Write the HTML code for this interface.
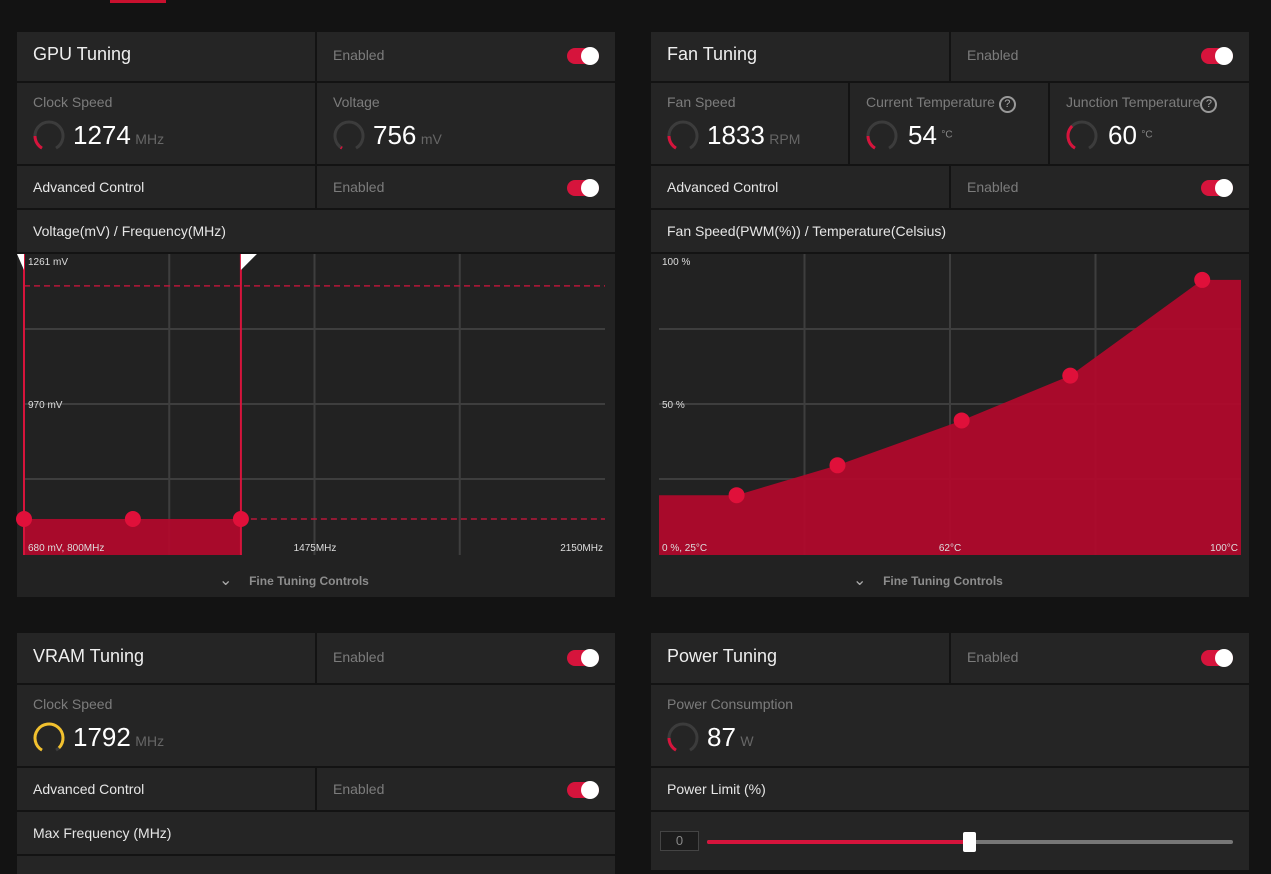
<!DOCTYPE html>
<html><head><meta charset="utf-8"><style>
*{box-sizing:border-box;margin:0;padding:0}
body{width:1271px;height:874px;background:#131313;font-family:"Liberation Sans",sans-serif;position:relative;overflow:hidden;color:#fff}
.c{position:absolute;background:#252525}
.t{position:absolute;white-space:nowrap}
.title{font-size:18px;color:#eee}
.lab{font-size:14px;color:#7c7c7c}
.row{font-size:14px;color:#e6e6e6}
.val{font-size:26px;color:#fff}
.unit{font-size:14px;color:#666}
.tog{position:absolute;width:32px;height:16px;border-radius:8px;background:#d6143c}
.tog::after{content:"";position:absolute;right:0;top:-1px;width:18px;height:18px;border-radius:9px;background:#fff}
.ft{font-size:12px;color:#8d8d8d;font-weight:bold}
</style></head><body>
<div class="t" style="left:110px;top:0;width:56px;height:3px;background:#c8102e"></div>

<!-- GPU panel -->
<div>
<div class="c" style="left:17px;top:32px;width:298px;height:49px"></div>
<div class="c" style="left:317px;top:32px;width:298px;height:49px"></div>
<div class="t title" style="left:33px;top:44px">GPU Tuning</div>
<div class="t lab" style="left:333px;top:47px">Enabled</div>
<div class="tog" style="left:567px;top:48px"></div>
<div class="c" style="left:17px;top:83px;width:298px;height:81px"></div>
<div class="c" style="left:317px;top:83px;width:298px;height:81px"></div>
<div class="t lab" style="left:33px;top:94px">Clock Speed</div>
<svg class="t gauge" data-f="0.2" data-col="#d6143c" style="left:31px;top:118px" width="36" height="36"></svg>
<div class="t" style="left:73px;top:120px"><span class="val">1274</span> <span class="unit">MHz</span></div>
<div class="t lab" style="left:333px;top:94px">Voltage</div>
<svg class="t gauge" data-f="0.02" data-col="#d6143c" style="left:331px;top:118px" width="36" height="36"></svg>
<div class="t" style="left:373px;top:120px"><span class="val">756</span> <span class="unit">mV</span></div>
<div class="c" style="left:17px;top:166px;width:298px;height:42px"></div>
<div class="c" style="left:317px;top:166px;width:298px;height:42px"></div>
<div class="t row" style="left:33px;top:179px">Advanced Control</div>
<div class="t lab" style="left:333px;top:179px">Enabled</div>
<div class="tog" style="left:567px;top:180px"></div>
<div class="c" style="left:17px;top:210px;width:598px;height:42px"></div>
<div class="t row" style="left:33px;top:223px">Voltage(mV) / Frequency(MHz)</div>
<div class="c" style="left:17px;top:254px;width:598px;height:343px;background:#222"></div>
<svg id="vf" class="t" style="left:0;top:0" width="640" height="600"></svg>
<div class="t ft" style="left:219px;top:570px"><span style="font-size:16px;font-weight:normal;color:#aaa">&#8964;</span>&nbsp;&nbsp;&nbsp;&nbsp;&nbsp;Fine Tuning Controls</div>
</div>

<!-- Fan panel -->
<div>
<div class="c" style="left:651px;top:32px;width:298px;height:49px"></div>
<div class="c" style="left:951px;top:32px;width:298px;height:49px"></div>
<div class="t title" style="left:667px;top:44px">Fan Tuning</div>
<div class="t lab" style="left:967px;top:47px">Enabled</div>
<div class="tog" style="left:1201px;top:48px"></div>
<div class="c" style="left:651px;top:83px;width:197px;height:81px"></div>
<div class="c" style="left:850px;top:83px;width:198px;height:81px"></div>
<div class="c" style="left:1050px;top:83px;width:199px;height:81px"></div>
<div class="t lab" style="left:667px;top:94px">Fan Speed</div>
<svg class="t gauge" data-f="0.2" data-col="#d6143c" style="left:665px;top:118px" width="36" height="36"></svg>
<div class="t" style="left:707px;top:120px"><span class="val">1833</span> <span class="unit">RPM</span></div>
<div class="t lab" style="left:866px;top:94px">Current Temperature <span style="display:inline-block;width:17px;height:17px;border:2px solid #999;border-radius:50%;font-size:11px;text-align:center;line-height:13px;color:#aaa">?</span></div>
<svg class="t gauge" data-f="0.2" data-col="#d6143c" style="left:864px;top:118px" width="36" height="36"></svg>
<div class="t" style="left:908px;top:120px"><span class="val">54</span> <sup style="font-size:10px;color:#888">°C</sup></div>
<div class="t lab" style="left:1066px;top:94px">Junction Temperature<span style="display:inline-block;width:17px;height:17px;border:2px solid #999;border-radius:50%;font-size:11px;text-align:center;line-height:13px;color:#aaa">?</span></div>
<svg class="t gauge" data-f="0.35" data-col="#d6143c" style="left:1064px;top:118px" width="36" height="36"></svg>
<div class="t" style="left:1108px;top:120px"><span class="val">60</span> <sup style="font-size:10px;color:#888">°C</sup></div>
<div class="c" style="left:651px;top:166px;width:298px;height:42px"></div>
<div class="c" style="left:951px;top:166px;width:298px;height:42px"></div>
<div class="t row" style="left:667px;top:179px">Advanced Control</div>
<div class="t lab" style="left:967px;top:179px">Enabled</div>
<div class="tog" style="left:1201px;top:180px"></div>
<div class="c" style="left:651px;top:210px;width:598px;height:42px"></div>
<div class="t row" style="left:667px;top:223px">Fan Speed(PWM(%)) / Temperature(Celsius)</div>
<div class="c" style="left:651px;top:254px;width:598px;height:343px;background:#222"></div>
<svg id="fan" class="t" style="left:0;top:0" width="1271" height="600"></svg>
<div class="t ft" style="left:853px;top:570px"><span style="font-size:16px;font-weight:normal;color:#aaa">&#8964;</span>&nbsp;&nbsp;&nbsp;&nbsp;&nbsp;Fine Tuning Controls</div>
</div>

<!-- VRAM panel -->
<div>
<div class="c" style="left:17px;top:633px;width:298px;height:50px"></div>
<div class="c" style="left:317px;top:633px;width:298px;height:50px"></div>
<div class="t title" style="left:33px;top:646px">VRAM Tuning</div>
<div class="t lab" style="left:333px;top:649px">Enabled</div>
<div class="tog" style="left:567px;top:650px"></div>
<div class="c" style="left:17px;top:685px;width:598px;height:81px"></div>
<div class="t lab" style="left:33px;top:696px">Clock Speed</div>
<svg class="t gauge" data-f="0.95" data-col="#f2c12e" style="left:31px;top:720px" width="36" height="36"></svg>
<div class="t" style="left:73px;top:722px"><span class="val">1792</span> <span class="unit">MHz</span></div>
<div class="c" style="left:17px;top:768px;width:298px;height:42px"></div>
<div class="c" style="left:317px;top:768px;width:298px;height:42px"></div>
<div class="t row" style="left:33px;top:781px">Advanced Control</div>
<div class="t lab" style="left:333px;top:781px">Enabled</div>
<div class="tog" style="left:567px;top:782px"></div>
<div class="c" style="left:17px;top:812px;width:598px;height:42px"></div>
<div class="t row" style="left:33px;top:825px">Max Frequency (MHz)</div>
<div class="c" style="left:17px;top:856px;width:598px;height:18px"></div>
</div>

<!-- Power panel -->
<div>
<div class="c" style="left:651px;top:633px;width:298px;height:50px"></div>
<div class="c" style="left:951px;top:633px;width:298px;height:50px"></div>
<div class="t title" style="left:667px;top:646px">Power Tuning</div>
<div class="t lab" style="left:967px;top:649px">Enabled</div>
<div class="tog" style="left:1201px;top:650px"></div>
<div class="c" style="left:651px;top:685px;width:598px;height:81px"></div>
<div class="t lab" style="left:667px;top:696px">Power Consumption</div>
<svg class="t gauge" data-f="0.2" data-col="#d6143c" style="left:665px;top:720px" width="36" height="36"></svg>
<div class="t" style="left:707px;top:722px"><span class="val">87</span> <span class="unit">W</span></div>
<div class="c" style="left:651px;top:768px;width:598px;height:42px"></div>
<div class="t row" style="left:667px;top:781px">Power Limit (%)</div>
<div class="c" style="left:651px;top:812px;width:598px;height:58px"></div>
<div class="t" style="left:660px;top:831px;width:39px;height:20px;border:1px solid #444;background:#1c1c1c;color:#888;font-size:13px;text-align:center;line-height:18px">0</div>
<div class="t" style="left:707px;top:840px;width:526px;height:4px;background:#777;border-radius:2px"></div>
<div class="t" style="left:707px;top:840px;width:263px;height:4px;background:#d6143c;border-radius:2px"></div>
<div class="t" style="left:963px;top:832px;width:13px;height:20px;background:#fff;border-radius:2px"></div>
</div>

<script>
// gauges
document.querySelectorAll('svg.gauge').forEach(function(s){
  var f=parseFloat(s.getAttribute('data-f')),col=s.getAttribute('data-col');
  var cx=18,cy=18,r=14,a0=120,sweep=300;
  function pt(a){var rad=a*Math.PI/180;return [cx+r*Math.cos(rad),cy+r*Math.sin(rad)];}
  function arc(a1,a2){var p1=pt(a1),p2=pt(a2);var lg=(a2-a1)>180?1:0;return 'M'+p1[0]+' '+p1[1]+' A'+r+' '+r+' 0 '+lg+' 1 '+p2[0]+' '+p2[1];}
  var g=document.createElementNS('http://www.w3.org/2000/svg','path');
  g.setAttribute('d',arc(a0,a0+sweep));g.setAttribute('stroke','#3c3c3c');g.setAttribute('stroke-width','3');g.setAttribute('fill','none');
  
  
  s.appendChild(g);
  var p=document.createElementNS('http://www.w3.org/2000/svg','path');
  p.setAttribute('d',arc(a0,a0+Math.max(sweep*f,2)));p.setAttribute('stroke',col);p.setAttribute('stroke-width','3');p.setAttribute('fill','none');
  
  
  s.appendChild(p);
});
</script>

<script>
// Voltage/Frequency chart data
var vfFreq = [800, 1053, 1304];
var vfVolt = [750, 750, 750];
var vfMaxVolt = 1203;
var vfYTicks = ["1261 mV", "970 mV"];
var vfXTicks = ["680 mV, 800MHz", "1475MHz", "2150MHz"];
var vfFreqRange = [800, 2150];
var vfVoltRange = [680, 1261];

(function(){
  var NS='http://www.w3.org/2000/svg', svg=document.getElementById('vf');
  var L=24,R=605,T=256,B=555;
  function x(v){return L+(v-vfFreqRange[0])/(vfFreqRange[1]-vfFreqRange[0])*(R-L);}
  function y(v){return B-(v-vfVoltRange[0])/(vfVoltRange[1]-vfVoltRange[0])*(B-T);}
  function el(t,a){var e=document.createElementNS(NS,t);for(var k in a)e.setAttribute(k,a[k]);svg.appendChild(e);return e;}
  var e;
  // grid
  for(var i=1;i<4;i++){
    e=el('line',{x1:L,x2:R,y1:254+i*75,y2:254+i*75,stroke:'#3e3e3e','stroke-width':2});
    
    
    var gx=L+i*(R-L)/4;
    e=el('line',{x1:gx,x2:gx,y1:254,y2:555,stroke:'#3e3e3e','stroke-width':2});
    
    
  }
  var x0=x(vfFreq[0]),x1=x(vfFreq[vfFreq.length-1]),yv=y(vfVolt[0]);
  e=el('rect',{x:x0,y:yv,width:x1-x0,height:B-yv,fill:'#b00a2c',opacity:0.95});
  
  
  e=el('line',{x1:L,x2:R,y1:y(vfMaxVolt),y2:y(vfMaxVolt),stroke:'#b8173a','stroke-width':1.5,'stroke-dasharray':'6 4'});
  
  
  e=el('line',{x1:x1,x2:R,y1:yv,y2:yv,stroke:'#b8173a','stroke-width':1.5,'stroke-dasharray':'6 4'});
  
  
  [x0,x1].forEach(function(xx){
    e=el('line',{x1:xx,x2:xx,y1:254,y2:B,stroke:'#d6143c','stroke-width':2});
    
    
  });
  e=el('polygon',{points:(x0-7)+',254 '+x0+',254 '+x0+',270',fill:'#fff'});
  
  
  e=el('polygon',{points:x1+',254 '+(x1+16)+',254 '+x1+',270',fill:'#fff'});
  
  
  for(var j=0;j<vfFreq.length;j++){
    e=el('circle',{cx:x(vfFreq[j]),cy:y(vfVolt[j]),r:8,fill:'#e0103a'});
    
    
  }
  var tks=[[28,265,'start',vfYTicks[0]],[28,408,'start',vfYTicks[1]],[28,551,'start',vfXTicks[0]],[315,551,'middle',vfXTicks[1]],[603,551,'end',vfXTicks[2]]];
  tks.forEach(function(t,k){
    e=el('text',{x:t[0],y:t[1],'text-anchor':t[2],fill:'#ddd','font-size':10,'font-family':'Liberation Sans, sans-serif'});
    e.textContent=t[3];
    
    
  });
})();
</script>

<script>
// Fan curve data
var fanTemp = [35, 48, 64, 78, 95];
var fanPct = [20, 30, 45, 60, 92];
var fanYTicks = ["100 %", "50 %"];
var fanXTicks = ["0 %, 25°C", "62°C", "100°C"];
var fanTempRange = [25, 100];
var fanPctRange = [0, 100];

(function(){
  var NS='http://www.w3.org/2000/svg', svg=document.getElementById('fan');
  var L=659,R=1241,T=256,B=555;
  function x(v){return L+(v-fanTempRange[0])/(fanTempRange[1]-fanTempRange[0])*(R-L);}
  function y(v){return B-(v-fanPctRange[0])/(fanPctRange[1]-fanPctRange[0])*(B-T);}
  function el(t,a){var e=document.createElementNS(NS,t);for(var k in a)e.setAttribute(k,a[k]);svg.appendChild(e);return e;}
  var e;
  for(var i=1;i<4;i++){
    e=el('line',{x1:L,x2:R,y1:254+i*75,y2:254+i*75,stroke:'#3e3e3e','stroke-width':2});
    
    
    var gx=L+i*(R-L)/4;
    e=el('line',{x1:gx,x2:gx,y1:254,y2:555,stroke:'#3e3e3e','stroke-width':2});
    
    
  }
  var pts=[[L,y(fanPct[0])]];
  for(var j=0;j<fanTemp.length;j++)pts.push([x(fanTemp[j]),y(fanPct[j])]);
  pts.push([R,y(fanPct[fanPct.length-1])]);
  var d='M'+L+' '+B+' '+pts.map(function(p){return 'L'+p[0]+' '+p[1];}).join(' ')+' L'+R+' '+B+' Z';
  e=el('path',{d:d,fill:'#b00a2c',opacity:0.95});
  
  
  for(var k=0;k<fanTemp.length;k++){
    e=el('circle',{cx:x(fanTemp[k]),cy:y(fanPct[k]),r:8,fill:'#e0103a'});
    
    
  }
  var tks=[[662,265,'start',fanYTicks[0]],[662,408,'start',fanYTicks[1]],[662,551,'start',fanXTicks[0]],[(L+R)/2,551,'middle',fanXTicks[1]],[1238,551,'end',fanXTicks[2]]];
  tks.forEach(function(t,n){
    e=el('text',{x:t[0],y:t[1],'text-anchor':t[2],fill:'#ddd','font-size':10,'font-family':'Liberation Sans, sans-serif'});
    e.textContent=t[3];
    
    
  });
})();
</script>
</body></html>
